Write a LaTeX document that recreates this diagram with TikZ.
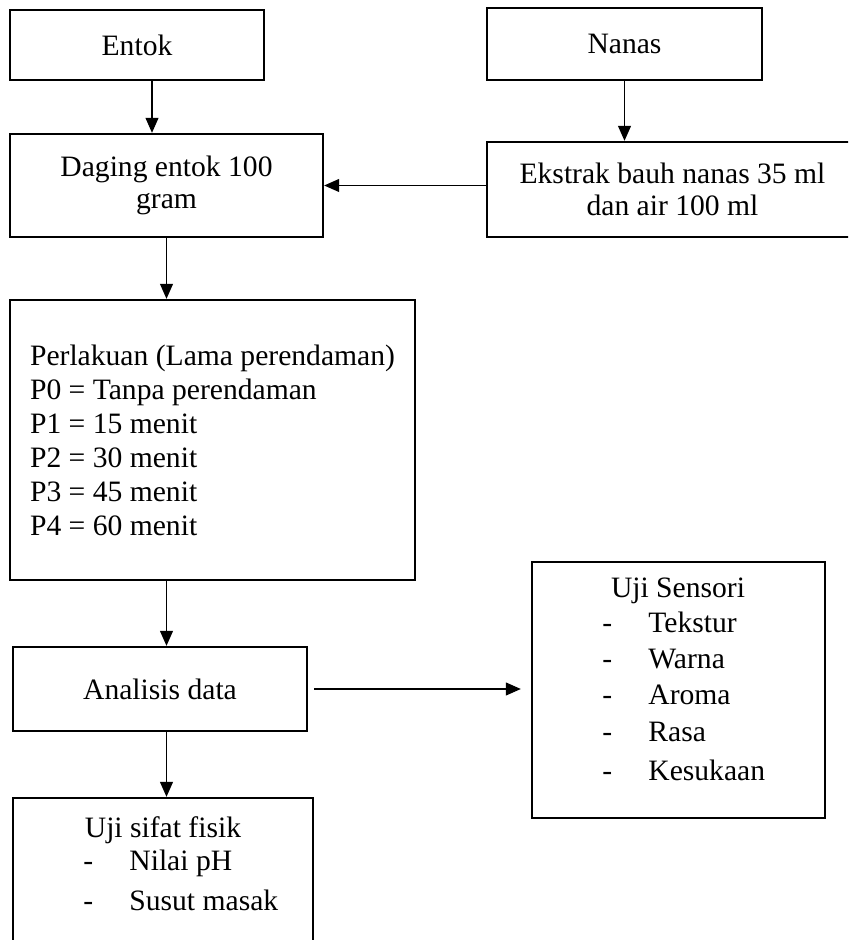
\documentclass[tikz,border=0pt]{standalone}
\usepackage{fontspec}
\setmainfont{Liberation Serif}
\usetikzlibrary{arrows.meta, positioning}
\tikzset{
  box/.style={rectangle, draw=black, line width=1.2pt, inner sep=0pt, align=center},
  arrow/.style={-{Triangle[length=7.5pt,width=6.5pt]}, line width=0.55pt},
  item/.style={anchor=base west, inner sep=0pt}
}
\newcommand{\dashitem}[1]{\makebox[23pt][l]{-}#1}

\begin{document}
\begin{tikzpicture}[x=0.5pt, y=-0.5pt, font=\fontsize{14.8}{16}\selectfont]
  \useasboundingbox (0,0) rectangle (848,940);
  \clip (0,0) rectangle (848,940);

  % Nodes (absolute layout, one unit = one pixel of the page)
  \node[box, minimum width=127pt, minimum height=35pt] (entok) at (137,45) {Entok};
  \node[box, minimum width=137.5pt, minimum height=36pt] (nanas) at (624.5,44) {Nanas};
  \node[box, minimum width=156.5pt, minimum height=51.5pt] (daging) at (166.5,185.5) {Daging entok 100\\ gram};
  \node[box, minimum width=185.5pt, minimum height=47.5pt] (ekstrak) at (672.5,189.5) {Ekstrak bauh nanas 35 ml\\ dan air 100 ml};
  \node[box, align=left, minimum width=202.5pt, minimum height=140pt, font=\fontsize{14.8}{17}\selectfont] (perlakuan) at (212.5,440)
    {Perlakuan (Lama perendaman)\\ P0 = Tanpa perendaman\\ P1 = 15 menit\\ P2 = 30 menit\\ P3 = 45 menit\\ P4 = 60 menit};
  \node[box, minimum width=147pt, minimum height=42pt] (analisis) at (160,689) {Analisis data};
  \node[box, minimum width=146.5pt, minimum height=128pt] (sensori) at (678.5,690) {};
  \node[box, minimum width=150pt, minimum height=81pt] (sifat) at (163,879) {};

  % Box contents (lists)
  \node[anchor=base, inner sep=0pt] (sensoriTitle) at (678,597) {Uji Sensori};
  \foreach \y/\txt [count=\i] in {632/Tekstur, 668/Warna, 704/Aroma, 741/Rasa, 780/Kesukaan}
    \node[item] (sensori\i) at (602,\y) {\dashitem{\txt}};
  \node[anchor=base, inner sep=0pt] (sifatTitle) at (163,837) {Uji sifat fisik};
  \foreach \y/\txt [count=\i] in {870/Nilai pH, 910/Susut masak}
    \node[item] (sifat\i) at (83,\y) {\dashitem{\txt}};

  % Arrows
  \coordinate (entokOut) at ([xshift=7.5pt]entok.south);
  \draw[arrow] (entokOut) -- (entokOut |- daging.north);
  \draw[arrow] (nanas.south) -- (nanas.south |- ekstrak.north);
  \draw[arrow] (ekstrak.west |- daging.east) -- (daging.east);
  \draw[arrow] (daging.south) -- (daging.south |- perlakuan.north);
  \draw[arrow] (daging.south |- perlakuan.south) -- (daging.south |- analisis.north);
  \draw[arrow] (daging.south |- analisis.south) -- (daging.south |- sifat.north);
  \draw[arrow, shorten <=3pt, shorten >=5pt] (analisis.east) -- (analisis.east -| sensori.west);
\end{tikzpicture}
\end{document}
